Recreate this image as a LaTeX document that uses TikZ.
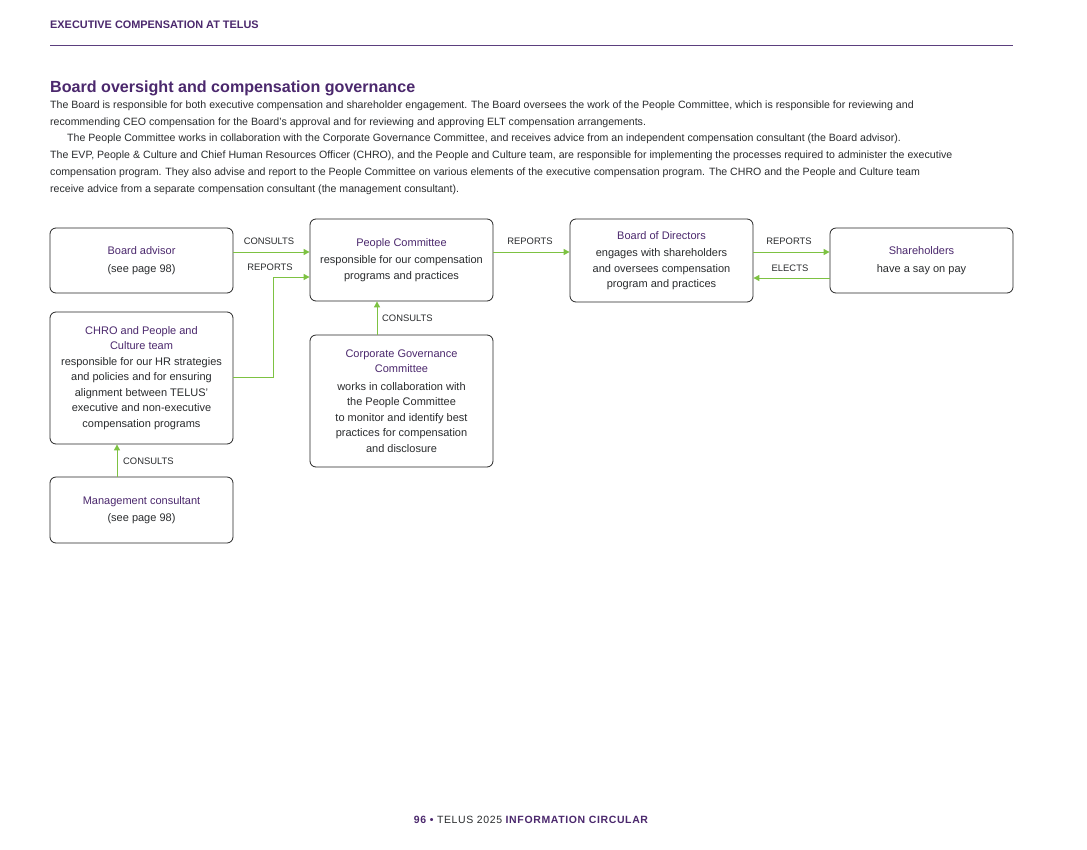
\documentclass[tikz,border=0pt]{standalone}
\usepackage{fontspec}
\setmainfont{Liberation Sans}
\usetikzlibrary{arrows.meta}
\definecolor{tpurple}{HTML}{4B286D}
\definecolor{tline}{HTML}{5B3F7E}
\definecolor{tgreen}{HTML}{7DC242}
\definecolor{tgray}{HTML}{2A2C2E}
\begin{document}
\begin{tikzpicture}[x=1pt,y=-1pt,
  box/.style={draw=black!85, rounded corners=6pt, line width=0.8pt, minimum width=183pt, align=center, inner sep=0pt, font=\fontsize{11}{15.5}\selectfont, text=tgray},
  conn/.style={draw=tgreen, line width=1pt, -{Triangle[length=6pt,width=6pt]}},
  lbl/.style={font=\fontsize{9.4}{10}\selectfont, text=tgray, inner sep=0pt},
  body/.style={anchor=base west, inner sep=0pt, font=\fontsize{10.6}{12}\selectfont, text=tgray}]
\useasboundingbox[fill=white] (0,0) rectangle (1087,849);
% header
\node[anchor=base west, inner sep=0pt, font=\fontsize{10.9}{12}\selectfont\bfseries, text=tpurple] (hdr) at (50,28) {EXECUTIVE COMPENSATION AT TELUS};
\draw[tline, line width=1pt] (50,45) -- (1013,45);
\node[anchor=base west, inner sep=0pt, font=\fontsize{16.1}{18}\selectfont\bfseries, text=tpurple] (title) at (50,92) {Board oversight and compensation governance};
\node[body] (l1) at (50,108) {The Board is responsible for both executive compensation and shareholder engagement. The Board oversees the work of the People Committee, which is responsible for reviewing and};
\node[body] (l2) at (50,125) {recommending CEO compensation for the Board’s approval and for reviewing and approving ELT compensation arrangements.};
\node[body] (l3) at (67,141) {The People Committee works in collaboration with the Corporate Governance Committee, and receives advice from an independent compensation consultant (the Board advisor).};
\node[body] (l4) at (50,158) {The EVP, People \& Culture and Chief Human Resources Officer (CHRO), and the People and Culture team, are responsible for implementing the processes required to administer the executive};
\node[body] (l5) at (50,175) {compensation program. They also advise and report to the People Committee on various elements of the executive compensation program. The CHRO and the People and Culture team};
\node[body] (l6) at (50,192) {receive advice from a separate compensation consultant (the management consultant).};
% boxes
\node[box, minimum height=65pt] (ba) at (141.5,260.5) {{\color{tpurple}Board advisor}\\[2pt](see page 98)};
\node[box, minimum height=82pt] (pc) at (401.5,260) {{\color{tpurple}People Committee}\\[2pt]responsible for our compensation\\programs and practices};
\node[box, minimum height=83pt] (bod) at (661.5,260.5) {{\color{tpurple}Board of Directors}\\[2pt]engages with shareholders\\and oversees compensation\\program and practices};
\node[box, minimum height=65pt] (sh) at (921.5,260.5) {{\color{tpurple}Shareholders}\\[2pt]have a say on pay};
\node[box, minimum height=132pt] (chro) at (141.5,378) {{\color{tpurple}CHRO and People and}\\{\color{tpurple}Culture team}\\responsible for our HR strategies\\and policies and for ensuring\\alignment between TELUS’\\executive and non-executive\\compensation programs};
\node[box, minimum height=132pt] (cg) at (401.5,401) {{\color{tpurple}Corporate Governance}\\{\color{tpurple}Committee}\\[2pt]works in collaboration with\\the People Committee\\to monitor and identify best\\practices for compensation\\and disclosure};
\node[box, minimum height=66pt] (mc) at (141.5,510) {{\color{tpurple}Management consultant}\\[2pt](see page 98)};
% connectors
\draw[conn] (ba.east |- 0,252) -- (pc.west |- 0,252);
\node[lbl] (lb1) at (269,241) {CONSULTS};
\coordinate (k1) at (273,377);
\coordinate (k2) at (273,277);
\draw[conn] (chro.east |- k1) -- (k1) -- (k2) -- (pc.west |- k2);
\node[lbl] (lb2) at (270,267) {REPORTS};
\draw[conn] (pc.east |- 0,252) -- (bod.west |- 0,252);
\node[lbl] (lb3) at (530,241) {REPORTS};
\draw[conn] (bod.east |- 0,252) -- (sh.west |- 0,252);
\node[lbl] (lb4) at (789,241) {REPORTS};
\draw[conn] (sh.west |- 0,278) -- (bod.east |- 0,278);
\node[lbl] (lb5) at (790,268) {ELECTS};
\draw[conn] (cg.north -| 377,0) -- (pc.south -| 377,0);
\node[lbl, anchor=west] (lb6) at (382,318) {CONSULTS};
\draw[conn] (mc.north -| 117,0) -- (chro.south -| 117,0);
\node[lbl, anchor=west] (lb7) at (123,461) {CONSULTS};
% footer
\node[anchor=base, inner sep=0pt, font=\fontsize{10.5}{12}\selectfont\addfontfeature{LetterSpace=6}, text=tgray] (ftr) at (531,823) {{\color{tpurple}\bfseries 96 \textbullet} TELUS 2025 {\color{tpurple}\bfseries INFORMATION CIRCULAR}};
\end{tikzpicture}
\end{document}
